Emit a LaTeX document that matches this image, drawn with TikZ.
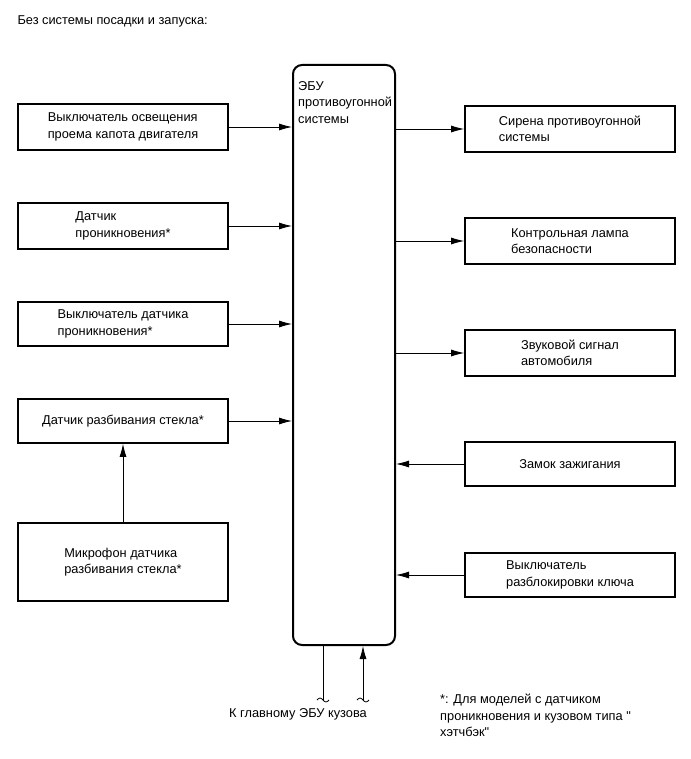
\documentclass[tikz,border=0pt]{standalone}
\usepackage{fontspec}
\newfontfamily\lsans{Liberation Sans}
\usetikzlibrary{arrows.meta}
\begin{document}
\begin{tikzpicture}[x=1pt,y=-1pt,
  txt/.style={font=\lsans\fontsize{12.8}{16.5}\selectfont},
  box/.style={draw,line width=1.7pt,minimum width=210pt,inner sep=0pt,align=left,txt},
  arr/.style={line width=0.8pt,-{Latex[length=13pt,width=7pt]}},
  ln/.style={line width=0.8pt},
  ecustyle/.style={draw,line width=2pt,rounded corners=9pt,minimum width=102pt,minimum height=580pt,inner sep=0pt}
]
\useasboundingbox (0,0) rectangle (690,759);
\node[txt,anchor=base west] (title) at (14,25) {Без системы посадки и запуска:};
% ECU
\node[ecustyle] (ecu) at (344,355) {};
\node[txt,anchor=north west,align=left,inner sep=0pt] (ecutxt) at (298,81) {ЭБУ\\противоугонной\\системы};
% left boxes
\node[box,minimum height=46pt] (L1) at (123,127) {Выключатель освещения\\проема капота двигателя};
\node[box,minimum height=46pt] (L2) at (123,226) {Датчик\\проникновения*};
\node[box,minimum height=44pt] (L3) at (123,324) {Выключатель датчика\\проникновения*};
\node[box,minimum height=44pt] (L4) at (123,421) {Датчик разбивания стекла*};
\node[box,minimum height=78pt] (L5) at (123,562) {Микрофон датчика\\разбивания стекла*};
% right boxes
\node[box,minimum height=46pt] (R1) at (570,129) {Сирена противоугонной\\системы};
\node[box,minimum height=46pt] (R2) at (570,241) {Контрольная лампа\\безопасности};
\node[box,minimum height=46pt] (R3) at (570,353) {Звуковой сигнал\\автомобиля};
\node[box,minimum height=44pt] (R4) at (570,464) {Замок зажигания};
\node[box,minimum height=44pt] (R5) at (570,575) {Выключатель\\разблокировки ключа};
% arrows
\foreach \n in {L1,L2,L3,L4}{\draw[arr] (\n.east) -- (\n.east -| ecu.west);}
\draw[arr] (L5.north) -- (L4.south);
\foreach \n in {R1,R2,R3}{\draw[arr] (\n.west -| ecu.east) -- (\n.west);}
\foreach \n in {R4,R5}{\draw[arr] (\n.west) -- (\n.west -| ecu.east);}
% bottom
\coordinate (w1) at (323,700);
\coordinate (w2) at (363,700);
\draw[ln] (ecu.south -| w1) -- (w1);
\draw[arr] (w2) -- (ecu.south -| w2);
\foreach \w in {w1,w2}{\draw[ln] ([xshift=-6pt]\w) sin ([xshift=-3pt,yshift=2pt]\w) cos (\w) sin ([xshift=3pt,yshift=-2pt]\w) cos ([xshift=6pt]\w);}
\node[txt,anchor=base] (bottomlbl) at (298,717) {К главному ЭБУ кузова};
\node[txt,anchor=north west,align=left,inner sep=0pt] (note) at (440,694) {*: Для моделей с датчиком\\проникновения и кузовом типа "\\хэтчбэк"};
\end{tikzpicture}
\end{document}
